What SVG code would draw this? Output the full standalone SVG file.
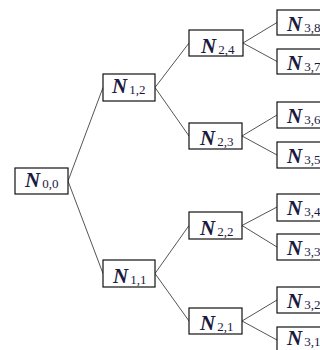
<svg xmlns="http://www.w3.org/2000/svg" width="320" height="350" viewBox="0 0 320 350">
<style>
rect{fill:#fff;stroke:#111;stroke-width:1.2}
text{font-family:"Liberation Serif","Times New Roman",serif;fill:#1a1a40}
.n{font-size:21px;font-weight:bold;font-style:italic}
.s{font-size:13px}
#edges line{stroke:#555;stroke-width:1}
</style>
<rect x="0" y="0" width="320" height="350" style="fill:#fff;stroke:none"/>
<g id="edges">
<line x1="68" y1="181" x2="103" y2="87.5"/>
<line x1="68" y1="181" x2="103" y2="273.5"/>
<line x1="155" y1="87.5" x2="189" y2="43"/>
<line x1="155" y1="87.5" x2="189" y2="136"/>
<line x1="155" y1="273.5" x2="189" y2="225.5"/>
<line x1="155" y1="273.5" x2="189" y2="321"/>
<line x1="243" y1="43" x2="277" y2="22.5"/>
<line x1="243" y1="43" x2="277" y2="61.5"/>
<line x1="242" y1="136" x2="277" y2="115"/>
<line x1="242" y1="136" x2="277" y2="155"/>
<line x1="242" y1="225.5" x2="277" y2="207"/>
<line x1="242" y1="225.5" x2="277" y2="247"/>
<line x1="242" y1="321" x2="277" y2="300"/>
<line x1="242" y1="321" x2="277" y2="340"/>
</g>
<g id="n00"><rect x="15" y="168" width="53" height="26"/><text x="25" y="187"><tspan class="n">N</tspan><tspan class="s" dx="2" dy="1">0,0</tspan></text></g>
<g id="n12"><rect x="103" y="74" width="52" height="27"/><text x="112" y="93"><tspan class="n">N</tspan><tspan class="s" dx="2" dy="1">1,2</tspan></text></g>
<g id="n11"><rect x="103" y="260" width="52" height="27"/><text x="113" y="283"><tspan class="n">N</tspan><tspan class="s" dx="2" dy="1">1,1</tspan></text></g>
<g id="n24"><rect x="189" y="30" width="54" height="26"/><text x="201" y="53"><tspan class="n">N</tspan><tspan class="s" dx="2" dy="1">2,4</tspan></text></g>
<g id="n23"><rect x="189" y="123" width="53" height="26"/><text x="200" y="145"><tspan class="n">N</tspan><tspan class="s" dx="2" dy="1">2,3</tspan></text></g>
<g id="n22"><rect x="189" y="212" width="53" height="27"/><text x="200" y="235"><tspan class="n">N</tspan><tspan class="s" dx="2" dy="1">2,2</tspan></text></g>
<g id="n21"><rect x="189" y="308" width="53" height="26"/><text x="200" y="330"><tspan class="n">N</tspan><tspan class="s" dx="2" dy="1">2,1</tspan></text></g>
<g id="n38"><rect x="277" y="10" width="55" height="25"/><text x="287" y="31"><tspan class="n">N</tspan><tspan class="s" dx="2" dy="1">3,8</tspan></text></g>
<g id="n37"><rect x="277" y="49" width="55" height="25"/><text x="287" y="70"><tspan class="n">N</tspan><tspan class="s" dx="2" dy="1">3,7</tspan></text></g>
<g id="n36"><rect x="277" y="102" width="55" height="26"/><text x="287" y="123"><tspan class="n">N</tspan><tspan class="s" dx="2" dy="1">3,6</tspan></text></g>
<g id="n35"><rect x="277" y="142" width="55" height="26"/><text x="287" y="163"><tspan class="n">N</tspan><tspan class="s" dx="2" dy="1">3,5</tspan></text></g>
<g id="n34"><rect x="277" y="194" width="55" height="27"/><text x="287" y="215"><tspan class="n">N</tspan><tspan class="s" dx="2" dy="1">3,4</tspan></text></g>
<g id="n33"><rect x="277" y="234" width="55" height="26"/><text x="287" y="255"><tspan class="n">N</tspan><tspan class="s" dx="2" dy="1">3,3</tspan></text></g>
<g id="n32"><rect x="277" y="287" width="55" height="26"/><text x="287" y="308"><tspan class="n">N</tspan><tspan class="s" dx="2" dy="1">3,2</tspan></text></g>
<g id="n31"><rect x="277" y="327" width="55" height="26"/><text x="287" y="345"><tspan class="n">N</tspan><tspan class="s" dx="2" dy="1">3,1</tspan></text></g>
</svg>
